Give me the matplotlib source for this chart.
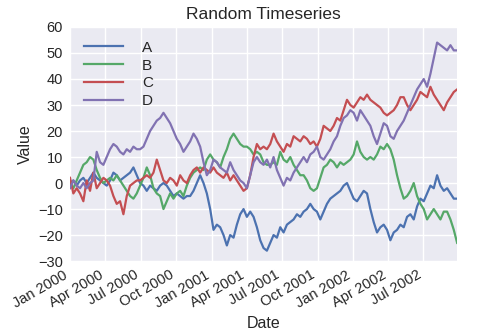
import numpy as np
import pandas as pd
import matplotlib
matplotlib.use("Agg")
import matplotlib.pyplot as plt
import matplotlib.dates as mdates

# values, one sample roughly every 8-9 days
dates = pd.date_range("2000-01-01", "2002-09-26", periods=117)

A = [0, 1, -1, 1, 2, 0, 2, 4, 2, 1,
     0, -1, 1, 4, 3, 1, 2, 3, 4, 6,
     3, 0, -1, -3, -1, -2, -3, -1, 0, -1,
     -3, -5, -4, -5, -6, -5, -5, -3, 0, 3,
     0, -4, -10, -18, -16, -17, -20, -24, -20, -21,
     -16, -12, -10, -13, -11, -13, -17, -22, -25, -26,
     -23, -20, -21, -17, -19, -16, -15, -14, -12, -13,
     -11, -10, -8, -10, -11, -14, -11, -8, -6, -5,
     -4, -3, -1, 0, -3, -6, -7, -5, -3, -4,
     -10, -15, -19, -17, -16, -18, -22, -19, -18, -16,
     -17, -13, -12, -14, -9, -6, -7, -4, -1, -2,
     3, -1, -3, -2, -4, -6, -6]
B = [0, -2, 1, 4, 7, 8, 10, 9, 5, 2,
     0, 1, 2, 1, 3, 1, -1, -3, -5, -6,
     -4, -1, 2, 6, 3, -2, -4, -5, -10, -7,
     -4, -6, -4, -3, -5, -1, 2, 4, 5, 6,
     5, 9, 11, 9, 8, 6, 10, 13, 17, 19,
     17, 15, 14, 14, 13, 11, 12, 11, 8, 7,
     7, 8, 7, 12, 9, 8, 10, 7, 5, 3,
     3, 1, -2, -3, -2, 2, 6, 7, 9, 8,
     6, 8, 7, 8, 9, 11, 16, 12, 10, 9,
     10, 9, 11, 14, 13, 15, 13, 9, 3, -2,
     -6, -5, -3, 0, -5, -8, -10, -14, -12, -10,
     -12, -14, -11, -11, -14, -18, -23]
C = [2, -4, -2, -4, -7, 1, -3, 4, -2, 0,
     2, 1, -1, -5, -8, -7, -12, -5, -1, 0,
     1, 1, 2, 3, 2, 4, 9, 5, 1, 0,
     2, 1, -1, 3, 1, 0, 3, 5, 6, 4,
     6, 5, 4, 6, 4, 3, 2, 4, 1, 3,
     1, -1, -3, -2, 3, 10, 15, 13, 14, 13,
     15, 19, 16, 14, 12, 15, 14, 18, 17, 16,
     18, 17, 15, 16, 14, 17, 22, 21, 20, 22,
     25, 24, 28, 32, 30, 29, 31, 33, 32, 34,
     32, 31, 30, 29, 27, 26, 27, 28, 30, 33,
     33, 30, 28, 30, 32, 35, 34, 33, 37, 34,
     32, 30, 28, 31, 33, 35, 36]
D = [-2, 1, -1, -2, 0, -2, 0, 1, 12, 8,
     7, 10, 13, 15, 14, 12, 11, 13, 12, 14,
     13, 13, 14, 17, 20, 22, 24, 25, 27, 25,
     23, 20, 17, 15, 12, 14, 16, 19, 17, 14,
     8, 3, 5, 9, 8, 6, 5, 4, 8, 5,
     3, 1, 0, -2, 3, 8, 10, 8, 7, 9,
     6, 10, 5, 2, -1, 2, 1, 4, 6, 8,
     10, 8, 11, 12, 14, 10, 9, 11, 13, 16,
     18, 22, 25, 26, 28, 27, 24, 28, 26, 24,
     22, 18, 15, 19, 23, 22, 18, 17, 20, 22,
     24, 27, 30, 33, 36, 38, 40, 37, 42, 48,
     54, 53, 52, 51, 53, 51, 51]

series = {"A": A, "B": B, "C": C, "D": D}
colors = ["#4C72B0", "#55A868", "#C44E52", "#8172B2"]

plt.rcParams["font.family"] = ["Liberation Sans", "DejaVu Sans"]
plt.rcParams["text.color"] = "#262626"
plt.rcParams["xtick.color"] = "#262626"
plt.rcParams["ytick.color"] = "#262626"
plt.rcParams["axes.labelcolor"] = "#262626"

fig = plt.figure(figsize=(4.91, 3.33), dpi=100)
ax = fig.add_axes([0.1426, 0.216, 0.7884, 0.703])
ax.set_facecolor("#EAEAF2")
for s in ax.spines.values():
    s.set_visible(False)
ax.grid(True, color="white", linewidth=1)
ax.set_axisbelow(True)

for (name, vals), c in zip(series.items(), colors):
    ax.plot(dates, vals, color=c, linewidth=1.6, label=name)

ax.set_xlim(pd.Timestamp("2000-01-01"), pd.Timestamp("2002-09-26"))
ax.set_ylim(-30, 60)
ax.set_yticks(np.arange(-30, 61, 10))
ax.xaxis.set_major_locator(mdates.MonthLocator(bymonth=[1, 4, 7, 10]))
ax.xaxis.set_major_formatter(mdates.DateFormatter("%b %Y"))
ax.tick_params(length=0, labelsize=10.5, pad=5)
plt.setp(ax.get_xticklabels(), rotation=30, ha="right")

ax.set_title("Random Timeseries", fontsize=12.5)
ax.set_xlabel("Date", fontsize=11.5)
ax.set_ylabel("Value", fontsize=11.5)
ax.legend(loc="upper left", frameon=False, fontsize=11, handlelength=2.6,
          handletextpad=1.2, labelspacing=0.25)

fig.savefig("out.png", dpi=100)
